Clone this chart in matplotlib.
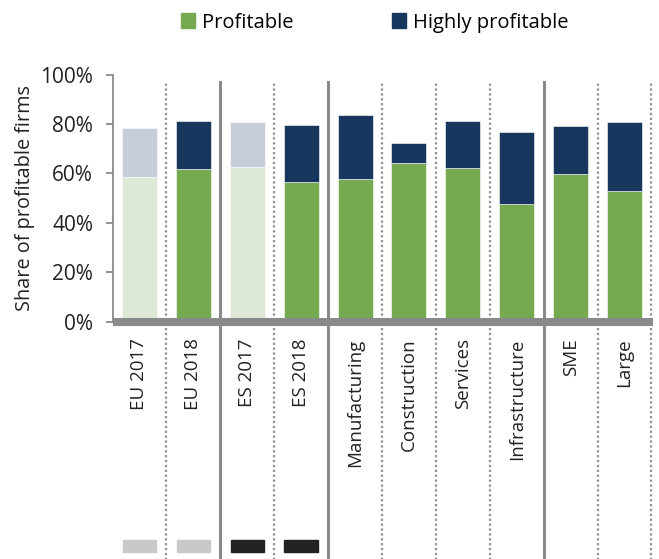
import matplotlib
matplotlib.use("Agg")
import matplotlib.pyplot as plt
from matplotlib.patches import Rectangle, Patch
import numpy as np

plt.rcParams["font.family"] = ["Open Sans", "DejaVu Sans"]

# data
categories = ["EU 2017", "EU 2018", "ES 2017", "ES 2018", "Manufacturing",
              "Construction", "Services", "Infrastructure", "SME", "Large"]
profitable = [58.7, 61.8, 62.7, 56.6, 57.8, 64.1, 62.2, 47.7, 59.9, 53.1]
total = [78.3, 81.4, 80.8, 79.8, 83.6, 72.2, 81.2, 76.8, 79.1, 80.9]
highly = [t - p for t, p in zip(total, profitable)]
yticks = [0, 20, 40, 60, 80, 100]

green = "#75AA50"
navy = "#17375E"
light_green = "#DDE9D5"
light_navy = "#C5CDD8"
grey = "#888A8C"

# the 2017 bars are faded
faded = [True, False, True, False, False, False, False, False, False, False]
solid_seps = [1.5, 3.5, 7.5]
dotted_seps = [0.5, 2.5, 4.5, 5.5, 6.5, 8.5, 9.5]
marker_colors = ["#C8C8C8", "#C8C8C8", "#222222", "#222222"]

fig = plt.figure(figsize=(6.59, 5.59), dpi=100)
ax = fig.add_axes([0.171, 0.4245, 0.82, 0.442])

x = np.arange(len(categories))
c1 = [light_green if f else green for f in faded]
c2 = [light_navy if f else navy for f in faded]
ax.bar(x, profitable, width=0.65, color=c1, edgecolor="white", linewidth=0.4, zorder=2)
ax.bar(x, highly, bottom=profitable, width=0.65, color=c2, edgecolor="white",
       linewidth=0.4, zorder=2)

ax.set_xlim(-0.497, 9.53)
ax.set_ylim(0, 100)

# separators run from the top of the plot down to the bottom of the figure
y_bottom = -107
for s in solid_seps:
    ax.plot([s, s], [y_bottom, 97], color=grey, lw=2.2, clip_on=False, zorder=3)
for s in dotted_seps:
    ax.plot([s, s], [y_bottom, 97], color="#8E9092", lw=1.6, ls=(0, (1, 1.2)),
            clip_on=False, zorder=3)

# thick base line
ax.plot([-0.497, 9.53], [0, 0], color=grey, lw=5.8, clip_on=False, zorder=4,
        solid_capstyle="butt")

# small marker boxes below the labels
for i, col in enumerate(marker_colors):
    ax.add_patch(Rectangle((i - 0.31, -93.1), 0.62, 4.9, color=col, clip_on=False))

ax.spines["top"].set_visible(False)
ax.spines["right"].set_visible(False)
ax.spines["bottom"].set_visible(False)
ax.spines["left"].set_color(grey)
ax.spines["left"].set_linewidth(1.3)

ax.set_yticks(yticks)
ax.set_yticklabels([f"{v}%" for v in yticks], fontsize=15, color="#222222")
ax.tick_params(axis="y", length=5, width=1.3, color=grey, pad=9)
ax.set_xticks(x)
ax.set_xticklabels(categories, rotation=90, fontsize=13.5, color="#222222")
ax.tick_params(axis="x", length=0, pad=12)
ax.set_ylabel("Share of profitable firms", fontsize=14.3, color="#222222", labelpad=4)

handles = [Patch(color=green, label="Profitable"),
           Patch(color=navy, label="Highly profitable")]
fig.legend(handles=handles, loc="upper left", bbox_to_anchor=(0.247, 1.01),
           ncol=2, frameon=False, fontsize=14.5, handlelength=0.7, handleheight=0.7,
           handletextpad=0.35, columnspacing=4.9)

fig.savefig("out.png", dpi=100)
